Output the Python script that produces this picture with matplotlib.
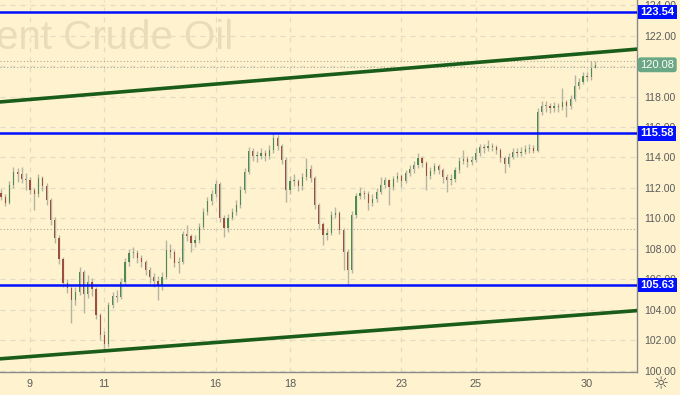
import matplotlib
matplotlib.use("Agg")
import matplotlib.pyplot as plt
import numpy as np

# ---------------- data ----------------
days = [6, 9, 10, 11, 12, 13, 16, 17, 18, 19, 20, 23, 24, 25, 26, 27, 30]
bars_per_day = [7, 9, 9, 9, 9, 9, 9, 9, 9, 9, 9, 9, 9, 9, 9, 9, 2]
labeled_days = [9, 11, 16, 18, 23, 25, 30]

opens = [111.70, 111.41, 111.02, 112.20, 113.05, 112.92, 112.59, 112.52, 111.87, 111.61,
         112.66, 112.13, 111.21, 109.90, 108.72, 107.34, 105.77, 105.44, 104.66, 105.18,
         106.49, 105.05, 105.84, 105.38, 103.67, 102.36, 101.77, 104.33, 104.92, 104.85,
         105.84, 107.15, 107.74, 107.74, 107.41, 107.15, 106.62, 106.16, 105.90, 105.64,
         106.16, 107.93, 107.80, 107.08, 107.15, 108.98, 108.85, 108.39, 108.59, 109.44,
         110.43, 111.15, 111.61, 112.26, 110.03, 109.38, 110.03, 110.43, 110.89, 111.87,
         113.05, 114.43, 114.10, 114.10, 114.30, 114.10, 114.49, 115.28, 114.75, 113.84,
         111.87, 112.46, 112.46, 112.13, 112.72, 113.25, 112.66, 110.89, 109.64, 108.92,
         109.05, 110.23, 110.36, 109.25, 107.80, 106.62, 110.23, 111.48, 111.67, 111.61,
         111.02, 111.28, 111.74, 112.20, 112.52, 112.07, 112.59, 112.79, 112.46, 112.98,
         113.25, 113.51, 113.97, 113.64, 112.79, 113.11, 113.44, 113.18, 112.72, 112.52,
         112.59, 113.18, 113.77, 113.90, 113.70, 113.84, 114.30, 114.69, 114.62, 114.75,
         114.69, 114.49, 113.97, 113.57, 114.03, 114.36, 114.30, 114.36, 114.56, 114.62,
         114.43, 116.98, 117.38, 117.38, 117.25, 117.38, 117.31, 117.64, 117.38, 117.84,
         118.69, 118.95, 119.34, 119.28, 119.87]
closes = [111.41, 111.02, 112.20, 113.05, 112.92, 112.59, 112.52, 111.87, 111.61, 112.66,
          112.13, 111.21, 109.90, 108.72, 107.34, 105.77, 105.44, 104.66, 105.18, 106.49,
          105.05, 105.84, 105.38, 103.67, 102.36, 101.77, 104.33, 104.92, 104.85, 105.84,
          107.15, 107.74, 107.74, 107.41, 107.15, 106.62, 106.16, 105.90, 105.64, 106.16,
          107.93, 107.80, 107.08, 107.15, 108.98, 108.85, 108.39, 108.59, 109.44, 110.43,
          111.15, 111.61, 112.26, 110.03, 109.38, 110.03, 110.43, 110.89, 111.87, 113.05,
          114.43, 114.10, 114.10, 114.30, 114.10, 114.49, 115.28, 114.75, 113.84, 111.87,
          112.46, 112.46, 112.13, 112.72, 113.25, 112.66, 110.89, 109.64, 108.92, 109.05,
          110.23, 110.36, 109.25, 107.80, 106.62, 110.23, 111.48, 111.67, 111.61, 111.02,
          111.28, 111.74, 112.20, 112.52, 112.07, 112.59, 112.79, 112.46, 112.98, 113.25,
          113.51, 113.97, 113.64, 112.79, 113.11, 113.44, 113.18, 112.72, 112.52, 112.59,
          113.18, 113.77, 113.90, 113.70, 113.84, 114.30, 114.69, 114.62, 114.75, 114.69,
          114.49, 113.97, 113.57, 114.03, 114.36, 114.30, 114.36, 114.56, 114.62, 114.43,
          116.98, 117.38, 117.38, 117.25, 117.38, 117.31, 117.64, 117.38, 117.84, 118.69,
          118.95, 119.34, 119.28, 119.87, 120.08]
highs = [111.95, 111.60, 112.45, 113.38, 113.30, 113.38, 112.98, 112.70, 112.00, 112.92,
         112.80, 112.30, 111.35, 110.10, 108.90, 107.50, 106.00, 105.60, 105.50, 106.82,
         106.60, 106.30, 106.10, 105.50, 103.80, 102.60, 104.50, 105.20, 105.30, 106.10,
         107.40, 108.00, 108.13, 107.90, 107.60, 107.30, 106.80, 106.40, 106.20, 106.50,
         108.59, 108.30, 107.95, 107.50, 109.20, 109.57, 109.00, 108.90, 109.70, 110.70,
         111.40, 111.90, 112.52, 112.40, 110.20, 110.30, 110.70, 111.20, 112.10, 113.30,
         114.69, 114.60, 114.40, 114.60, 114.50, 114.80, 115.58, 115.50, 114.90, 114.00,
         112.80, 112.90, 112.60, 113.00, 113.97, 113.50, 112.80, 111.00, 109.80, 109.40,
         110.50, 110.75, 110.50, 109.40, 108.00, 110.50, 111.70, 112.07, 111.90, 111.80,
         111.60, 112.00, 112.72, 112.70, 112.60, 112.80, 113.05, 112.90, 113.20, 113.50,
         113.80, 114.30, 114.10, 113.80, 113.40, 113.64, 113.60, 113.30, 112.90, 112.90,
         113.40, 114.00, 114.49, 114.10, 114.10, 114.60, 114.90, 114.90, 115.15, 114.95,
         114.80, 114.60, 114.10, 114.30, 114.60, 114.60, 114.70, 114.80, 114.90, 114.80,
         117.25, 117.70, 117.70, 117.60, 117.65, 117.60, 118.56, 117.80, 118.10, 119.41,
         119.20, 119.60, 119.60, 120.33, 120.30]
lows = [111.20, 110.80, 110.95, 112.00, 112.40, 112.30, 111.90, 111.60, 110.56, 111.40,
        111.80, 110.90, 109.60, 108.40, 107.00, 105.50, 105.10, 103.15, 104.30, 105.00,
        103.80, 104.80, 104.90, 103.40, 102.03, 101.44, 101.60, 104.10, 104.50, 104.70,
        105.70, 106.90, 107.40, 107.10, 106.80, 106.30, 105.80, 105.50, 104.66, 105.30,
        106.00, 107.40, 106.80, 106.43, 107.00, 108.50, 107.80, 108.10, 108.40, 109.30,
        110.20, 110.90, 111.40, 109.80, 108.79, 109.10, 109.90, 110.20, 110.70, 111.70,
        112.90, 113.80, 113.70, 113.90, 113.80, 113.90, 114.30, 114.50, 113.60, 111.08,
        111.60, 112.10, 111.80, 111.90, 112.50, 112.40, 110.60, 109.30, 108.26, 108.60,
        108.90, 110.00, 109.00, 106.62, 105.63, 106.40, 110.00, 111.30, 111.30, 110.56,
        110.80, 111.10, 111.60, 112.00, 110.89, 111.90, 112.40, 112.07, 112.30, 112.80,
        113.00, 113.30, 113.40, 111.87, 112.60, 112.90, 112.90, 112.33, 111.74, 112.20,
        112.40, 113.00, 113.60, 113.40, 113.50, 113.70, 114.10, 114.30, 114.40, 114.40,
        114.20, 113.70, 112.98, 113.40, 113.90, 114.00, 114.10, 114.20, 114.30, 114.30,
        114.35, 116.80, 117.00, 116.90, 117.00, 117.00, 117.10, 116.66, 117.20, 117.70,
        118.50, 118.80, 119.00, 119.10, 119.85]

levels = [123.54, 115.58, 105.63]
last_price = 120.08
dotted_levels = [120.33, 119.95, 109.30]
upper_trend = [(0, 117.65), (144, 120.88)]
lower_trend = [(0, 100.80), (144, 103.75)]
y_ticks = [100, 102, 104, 106, 108, 110, 112, 114, 116, 118, 120, 122, 124]
watermark = "Brent Crude Oil"

# ---------------- figure ----------------
FONT = "Liberation Sans"
BG = "#fff3cf"
W, H = 680, 395
fig = plt.figure(figsize=(W / 100, H / 100), dpi=100, facecolor=BG)
ax = fig.add_axes([0, 23 / H, 637 / W, 372 / H])
ax.set_facecolor(BG)

n = len(closes)
x = np.arange(n)
ax.set_xlim(-0.27, 154.1)
ax.set_ylim(99.93, 124.33)

# grid
grid_col = "#e3dcc4"
day_starts = np.concatenate([[0], np.cumsum(bars_per_day)[:-1]])
tick_pos = [day_starts[days.index(d)] for d in labeled_days]
for tp in tick_pos:
    ax.axvline(tp, color=grid_col, lw=0.9, ls=(0, (4, 4)), zorder=0)
for yt in y_ticks:
    ax.axhline(yt, color=grid_col, lw=0.9, ls=(0, (4, 4)), zorder=0)

# watermark
ax.text(233 / 637, 1 - 38 / 372, watermark, transform=ax.transAxes, ha="right",
        va="center", fontsize=29, color="#e9dcb8", family=FONT, zorder=0.5)

# dotted levels
for dl in dotted_levels:
    ax.axhline(dl, color="#a9a99a", lw=0.8, ls=(0, (1, 2)), zorder=1)

# candles
up_col = "#4c8c52"
dn_col = "#9c4f3c"
wick_col = "#b4b4a4"
o = np.array(opens); c = np.array(closes)
hi = np.array(highs); lo = np.array(lows)
ax.vlines(x, lo, hi, color=wick_col, lw=1.0, zorder=2)
up = c >= o
bottoms = np.minimum(o, c)
heights = np.maximum(np.abs(c - o), 0.06)
ax.bar(x[up], heights[up], bottom=bottoms[up], width=0.3, color=up_col, lw=0, zorder=3)
ax.bar(x[~up], heights[~up], bottom=bottoms[~up], width=0.3, color=dn_col, lw=0, zorder=3)

# horizontal blue levels
for lv in levels:
    ax.axhline(lv, color="#0010ff", lw=1.8, zorder=4)

# trendlines
for tr in (upper_trend, lower_trend):
    ax.axline(tr[0], tr[1], color="#1a5c1a", lw=2.6, zorder=4)

# axes styling
for s in ("top", "left"):
    ax.spines[s].set_visible(False)
ax.spines["right"].set_color("#8a8a8a")
ax.spines["bottom"].set_color("#8a8a8a")
ax.spines["right"].set_linewidth(1.0)
ax.spines["bottom"].set_linewidth(1.0)
ax.yaxis.tick_right()
ax.set_yticks(y_ticks)
ax.set_yticklabels([f"{v:.2f}" for v in y_ticks], family=FONT)
ax.tick_params(axis="y", length=0, pad=5.5, labelsize=7.6, labelcolor="#5a5a5a")
ax.set_xticks(tick_pos)
ax.set_xticklabels([str(d) for d in labeled_days], family=FONT)
ax.tick_params(axis="x", length=0, pad=5, labelsize=7.8, labelcolor="#5a5a5a")

# price boxes
box_dx = 14.6  # points right of the axis edge
for lv in levels:
    ax.annotate(f"{lv:.2f}", xy=(1, lv), xycoords=("axes fraction", "data"),
                xytext=(box_dx, 0), textcoords="offset points", ha="center", va="center",
                fontsize=8, color="white", fontweight="bold", family=FONT, zorder=10,
                bbox=dict(boxstyle="square,pad=0.2", fc="#0010ff", ec="none"),
                annotation_clip=False)
ax.annotate(f"{last_price:.2f}", xy=(1, last_price), xycoords=("axes fraction", "data"),
            xytext=(box_dx, 0), textcoords="offset points", ha="center", va="center",
            fontsize=8, color="white", family=FONT, zorder=10,
            bbox=dict(boxstyle="round,pad=0.22,rounding_size=0.25", fc="#6aa784", ec="none"),
            annotation_clip=False)

# gear icon
fig.text(661 / W, 1 - 384 / H, "\u263c", ha="center", va="center", fontsize=13,
         color="#555555", family="DejaVu Sans")

fig.savefig("out.png", dpi=100, facecolor=BG)
